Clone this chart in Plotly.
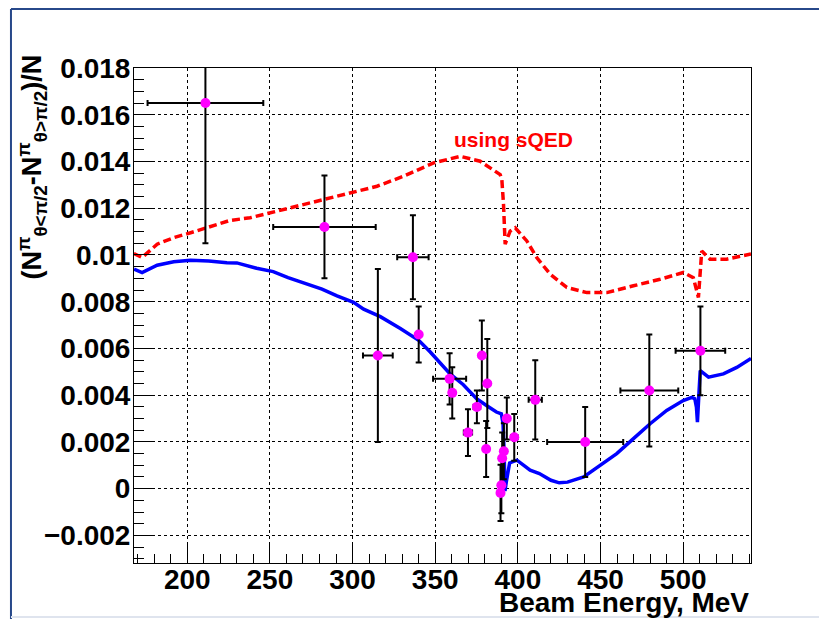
import plotly.graph_objects as go

# ---------------- data ----------------
# measured asymmetry points
E_data = [211.0, 283.0, 315.3, 336.5, 340.0, 358.7, 360.3, 369.8, 375.2, 378.2,
          381.5, 380.8, 391.5, 390.5, 390.0, 389.5, 393.3, 397.8, 410.5, 440.7,
          479.5, 510.4]
A_data = [0.0165, 0.0112, 0.0057, 0.0099, 0.0066, 0.0047, 0.0041, 0.0024, 0.0035, 0.0057,
          0.0045, 0.0017, 0.0016, 0.0013, 0.00015, -0.00018, 0.0030, 0.0022, 0.0038, 0.0020,
          0.0042, 0.0059]
E_err = [35.0, 31.0, 9.0, 9.5, 0.0, 10.0, 0.0, 2.5, 2.0, 1.0,
         1.0, 1.0, 1.0, 0.5, 0.5, 0.5, 1.0, 2.0, 4.0, 23.0,
         17.5, 15.0]
A_err = [0.0060, 0.0022, 0.0037, 0.0018, 0.0012, 0.0011, 0.0011, 0.0010, 0.0007, 0.0015,
         0.0019, 0.0012, 0.0012, 0.0011, 0.0012, 0.0012, 0.0009, 0.0010, 0.0017, 0.0015,
         0.0024, 0.0019]

# blue model curve
E_blue = [167.8, 172.7, 181.8, 191.8, 202.0, 213.0, 224.0, 230.0, 242.0, 252.0,
          261.0, 272.5, 281.5, 290.6, 300.6, 306.7, 316.8, 328.9, 340.0, 347.0,
          359.0, 367.0, 375.0, 381.0, 387.0, 390.0, 391.0, 391.7, 392.2, 393.0,
          395.0, 399.4, 407.4, 413.0, 420.0, 425.0, 430.0, 439.8, 449.7, 459.8,
          469.9, 480.0, 490.0, 500.0, 505.2, 507.0, 508.0, 508.6, 509.5, 510.3,
          515.3, 524.3, 532.4, 541.0]
A_blue = [0.00939, 0.00925, 0.00956, 0.00971, 0.00977, 0.00974, 0.00967, 0.00966, 0.00943, 0.00929,
          0.00903, 0.00875, 0.00854, 0.00825, 0.00797, 0.00768, 0.00736, 0.00685, 0.00635, 0.00585,
          0.00491, 0.00445, 0.00385, 0.00356, 0.00328, 0.00320, 0.00280, 0.00150, -0.00010, 0.00030,
          0.00110, 0.00122, 0.00079, 0.00065, 0.00036, 0.00025, 0.00028, 0.00050, 0.00100, 0.00150,
          0.00214, 0.00278, 0.00335, 0.00377, 0.00391, 0.00385, 0.00349, 0.00285, 0.00406, 0.00505,
          0.00477, 0.00491, 0.00519, 0.00557]

# red dashed curve (sQED)
E_red = [167.7, 172.7, 181.8, 191.8, 202.0, 212.0, 226.0, 238.0, 250.3, 262.4,
         274.5, 286.5, 302.7, 314.8, 330.9, 345.0, 349.0, 365.1, 377.2, 389.3,
         390.3, 391.3, 392.3, 395.3, 398.4, 405.4, 411.5, 419.5, 429.6, 441.7,
         453.8, 469.9, 486.0, 500.1, 506.1, 509.2, 511.2, 516.2, 526.3, 541.0]
A_red = [0.01006, 0.00989, 0.01046, 0.01074, 0.01095, 0.01116, 0.01148, 0.01159, 0.01180, 0.01202,
         0.01223, 0.01244, 0.01273, 0.01294, 0.01337, 0.01380, 0.01394, 0.01422, 0.01401, 0.01344,
         0.01323, 0.01216, 0.01046, 0.01102, 0.01116, 0.01060, 0.00988, 0.00918, 0.00861, 0.00839,
         0.00839, 0.00868, 0.00896, 0.00925, 0.00903, 0.00818, 0.01017, 0.00982, 0.00982, 0.01004]

y_tickvals = [-0.002, 0.0, 0.002, 0.004, 0.006, 0.008, 0.010, 0.012, 0.014, 0.016, 0.018]
y_ticktext = ["\u22120.002", "0", "0.002", "0.004", "0.006", "0.008", "0.01",
              "0.012", "0.014", "0.016", "0.018"]
x_tickvals = [200, 250, 300, 350, 400, 450, 500]
x_ticktext = ["200", "250", "300", "350", "400", "450", "500"]

FONT = "Liberation Sans, Arial, Helvetica, sans-serif"

fig = go.Figure()

fig.add_trace(go.Scatter(
    x=E_blue, y=A_blue, mode="lines",
    line=dict(color="#0000ff", width=3.5), showlegend=False, hoverinfo="skip"))

fig.add_trace(go.Scatter(
    x=E_red, y=A_red, mode="lines",
    line=dict(color="#ff0000", width=3.5, dash="8px,4px"), showlegend=False, hoverinfo="skip"))

fig.add_trace(go.Scatter(
    x=E_data, y=A_data, mode="markers",
    marker=dict(color="#ff00ff", size=10, symbol="circle"),
    error_x=dict(type="data", array=E_err, color="black", thickness=2, width=3),
    error_y=dict(type="data", array=A_err, color="black", thickness=2, width=3),
    showlegend=False))

fig.add_annotation(x=360.1, y=0.01493, xref="x", yref="y", text="using sQED",
                   showarrow=False, xanchor="left", yanchor="middle",
                   font=dict(family=FONT, size=21, color="#ff0000", weight="bold"))

# axis titles
fig.add_annotation(x=1.0, y=-0.079, xref="paper", yref="paper",
                   text="Beam Energy, MeV", showarrow=False,
                   xanchor="right", yanchor="middle",
                   font=dict(family=FONT, size=28, color="black", weight="bold"))
fig.add_annotation(x=-0.166, y=0.80, xref="paper", yref="paper",
                   text="(N<sup>\u03c0</sup><sub>\u03b8&lt;\u03c0/2</sub>-N<sup>\u03c0</sup><sub>\u03b8&gt;\u03c0/2</sub>)/N",
                   showarrow=False, textangle=-90,
                   xanchor="center", yanchor="middle",
                   font=dict(family=FONT, size=27, color="black", weight="bold"))

# canvas border
border = "#27488a"
fig.add_shape(type="line", xref="paper", yref="paper",
              x0=-0.1994, x1=-0.1994, y0=-0.13, y1=1.1192,
              line=dict(color=border, width=2))
fig.add_shape(type="line", xref="paper", yref="paper",
              x0=-0.1994, x1=1.14, y0=1.1192, y1=1.1192,
              line=dict(color=border, width=2))
fig.add_shape(type="line", xref="paper", yref="paper",
              x0=-0.1994, x1=1.14, y0=-0.1091, y1=-0.1091,
              line=dict(color="#dfe4ee", width=2))

fig.update_xaxes(
    range=[167.8, 541.0], tickvals=x_tickvals, ticktext=x_ticktext,
    ticks="inside", ticklen=19, tickwidth=1, tickcolor="black",
    minor=dict(dtick=10, tick0=0, ticks="inside", ticklen=9, tickcolor="black", tickwidth=1, showgrid=False),
    showgrid=True, gridcolor="black", griddash="dot", gridwidth=1,
    showline=True, linecolor="black", linewidth=1, mirror=True,
    zeroline=False, tickfont=dict(family=FONT, size=28, color="black", weight="bold"),
    ticklabelstandoff=-9, automargin=False)
fig.update_yaxes(
    range=[-0.00318, 0.018], tickvals=y_tickvals, ticktext=y_ticktext,
    ticks="inside", ticklen=19, tickwidth=1, tickcolor="black",
    minor=dict(dtick=0.0005, tick0=0, ticks="inside", ticklen=10, tickcolor="black", tickwidth=1, showgrid=False),
    showgrid=True, gridcolor="black", griddash="dot", gridwidth=1,
    showline=True, linecolor="black", linewidth=1, mirror=True,
    zeroline=False, tickfont=dict(family=FONT, size=28, color="black", weight="bold"),
    ticklabelstandoff=-3, automargin=False)

# page body has an 8px margin, so the figure is drawn 8px smaller and offset
fig.update_layout(
    width=819, height=611,
    margin=dict(l=126, r=76, t=60, b=56, autoexpand=False),
    paper_bgcolor="white", plot_bgcolor="white",
    showlegend=False)

fig.write_html("out.html")
